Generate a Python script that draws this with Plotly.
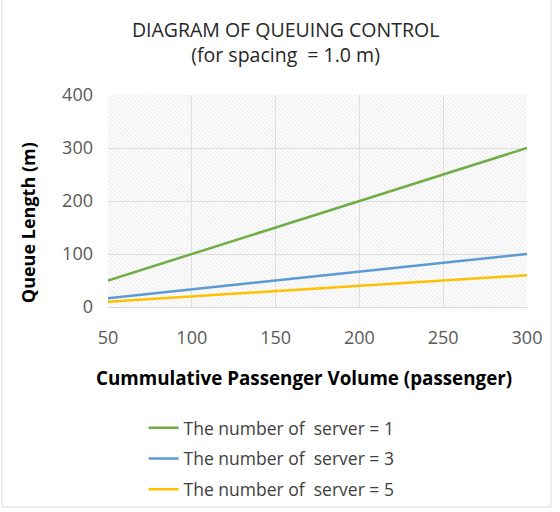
import plotly.graph_objects as go

passengers = [50, 100, 150, 200, 250, 300]
server1 = [50, 100, 150, 200, 250, 300]
server3 = [16.7, 33.3, 50, 66.7, 83.3, 100]
server5 = [10, 20, 30, 40, 50, 60]
series_names = ["The number of  server = 1", "The number of  server = 3", "The number of  server = 5"]
series_colors = ["#70ad47", "#5b9bd5", "#ffc000"]
x_title = "Cummulative Passenger Volume (passenger)"
y_title = "Queue Length (m)"

x_range = [50, 300]
y_range = [0, 400]

FONT = "Open Sans"

fig = go.Figure()

# hatched plot-area background
fig.add_trace(go.Scatter(
    x=[x_range[0], x_range[1], x_range[1], x_range[0], x_range[0]],
    y=[y_range[0], y_range[0], y_range[1], y_range[1], y_range[0]],
    fill="toself", mode="none", fillcolor="rgba(0,0,0,0)",
    fillpattern=dict(shape="\\", fgcolor="#d8d8d8", bgcolor="rgba(0,0,0,0)", size=3, solidity=0.4),
    showlegend=False, hoverinfo="skip"))

for i, (ys, name, col) in enumerate(zip([server1, server3, server5], series_names, series_colors)):
    fig.add_trace(go.Scatter(x=passengers, y=ys, mode="lines", name=name,
                             legendgroup=f"g{i}",
                             line=dict(color=col, width=2.5)))

fig.update_layout(
    width=560, height=512,
    paper_bgcolor="white", plot_bgcolor="white",
    margin=dict(l=108, r=33, t=95, b=205, autoexpand=False),
    font=dict(family=FONT, color="#595959"),
    title=dict(text="DIAGRAM OF QUEUING CONTROL<br>(for spacing  = 1.0 m)",
               x=0.51, xanchor="center", y=0.928, yanchor="top",
               font=dict(size=19.5, color="#262626", family=FONT)),
    legend=dict(orientation="v", x=0.085, xanchor="left", y=-0.485, yanchor="top",
                font=dict(size=17.5, color="#404040"), tracegroupgap=5,
                bgcolor="rgba(0,0,0,0)"),
    showlegend=True,
)

fig.update_xaxes(range=x_range, tick0=50, dtick=50, showgrid=True, gridcolor="#e0e0e0",
                 zeroline=False, showline=True, linecolor="#d9d9d9", automargin=False,
                 tickfont=dict(size=18, color="#595959"), ticks="", ticklabelstandoff=14)
fig.update_yaxes(range=y_range, dtick=100, showgrid=True, gridcolor="#e0e0e0",
                 zeroline=False, showline=False, automargin=False,
                 tickfont=dict(size=18, color="#595959"), ticks="", ticklabelstandoff=14)

# axis titles (positioned as in the reference)
fig.add_annotation(text=f"<b>{x_title}</b>", xref="paper", yref="paper",
                   x=0.468, y=-0.335, xanchor="center", yanchor="middle", showarrow=False,
                   font=dict(size=18.8, color="black", family=FONT))
fig.add_annotation(text=f"<b>{y_title}</b>", xref="paper", yref="paper",
                   x=-0.191, y=0.40, xanchor="center", yanchor="middle", showarrow=False,
                   textangle=-90, font=dict(size=18, color="black", family=FONT))

# chart border
fig.add_shape(type="rect", xref="paper", yref="paper",
              x0=-0.253, x1=1.057, y0=-0.943, y1=1.46,
              line=dict(color="#d9d9d9", width=1))

fig.write_html("out.html", config={"displayModeBar": False},
               post_script="document.body.style.margin='0';")
